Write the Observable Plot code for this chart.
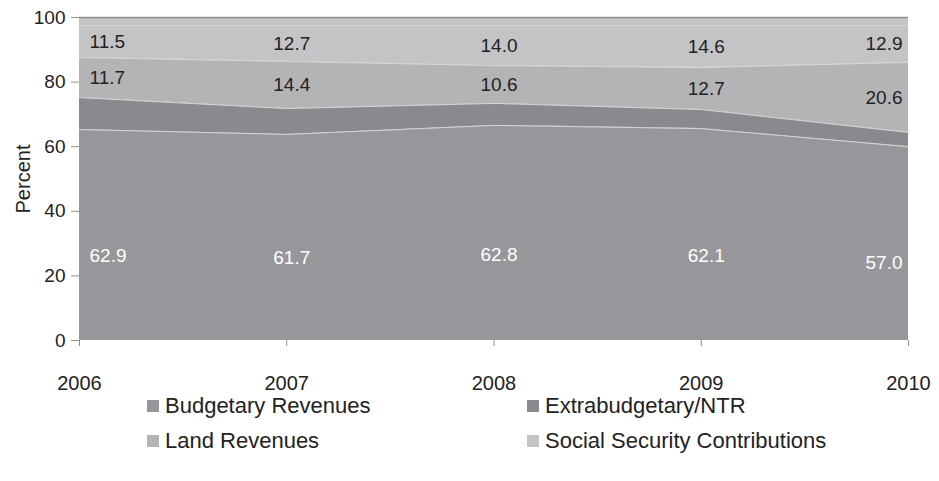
<!DOCTYPE html>
<html><head><meta charset="utf-8">
<script src="https://cdn.jsdelivr.net/npm/d3@7"></script>
<script src="https://cdn.jsdelivr.net/npm/@observablehq/plot@0.6"></script>
<style>
body{margin:0;background:#fff;font-family:"Liberation Sans",Arial,sans-serif;}
#chart svg{display:block;}
#legend{position:relative;height:86px;width:939px;}
.item{position:absolute;display:flex;align-items:center;font-size:22px;color:#222;line-height:1;}
.sw{width:12px;height:12px;margin-right:6px;}
</style></head><body><div id="chart"></div><div id="legend"></div>
<script>
const years = [2006, 2007, 2008, 2009, 2010];
const seriesNames = ["Budgetary Revenues", "Extrabudgetary/NTR", "Land Revenues", "Social Security Contributions", "Other"];
const legendNames = ["Budgetary Revenues", "Extrabudgetary/NTR", "Land Revenues", "Social Security Contributions"];
// band heights (percent)
const budgetary = [65.3, 63.8, 66.6, 65.6, 60.0];
const extrabudgetary = [9.9, 8.0, 6.8, 5.9, 4.4];
const land = [12.4, 14.6, 11.7, 13.0, 21.7];
const social = [9.9, 11.1, 12.4, 13.0, 11.4];
const other = [2.5, 2.5, 2.5, 2.5, 2.5];
// printed data labels
const budgetaryLabels = [62.9, 61.7, 62.8, 62.1, 57.0];
const landLabels = [11.7, 14.4, 10.6, 12.7, 20.6];
const socialLabels = [11.5, 12.7, 14.0, 14.6, 12.9];
const yTicks = [0, 20, 40, 60, 80, 100];
const colors = ["#97979b", "#8a8a8e", "#b4b4b7", "#c4c4c7", "#c4c4c7"];

const seriesValues = [budgetary, extrabudgetary, land, social, other];
const rows = [];
seriesNames.forEach((s, i) => years.forEach((yr, j) => rows.push({year: yr, series: s, value: seriesValues[i][j]})));

const labels = [];
years.forEach((yr, j) => {
  const b = budgetary[j], e = extrabudgetary[j], l = land[j], so = social[j];
  labels.push({year: yr, text: budgetaryLabels[j].toFixed(1), y: b * 0.4, fill: "#ffffff"});
  labels.push({year: yr, text: landLabels[j].toFixed(1), y: b + e + l / 2, fill: "#222222"});
  labels.push({year: yr, text: socialLabels[j].toFixed(1), y: b + e + l + so / 2, fill: "#222222"});
});

const stackOpts = {x: "year", y: "value", z: "series", order: seriesNames};
const textCommon = {x: "year", y: "y", text: "text", fill: "fill", fontSize: 19};

const chart = Plot.plot({
  width: 939,
  height: 395,
  marginLeft: 79,
  marginRight: 31,
  marginTop: 17,
  marginBottom: 55,
  style: {fontFamily: "'Liberation Sans', Arial, sans-serif", background: "#fff"},
  x: {type: "linear", domain: [2006, 2010]},
  y: {domain: [0, 100]},
  color: {domain: seriesNames, range: colors},
  marks: [
    Plot.areaY(rows, {...stackOpts, fill: "series", curve: "linear"}),
    Plot.lineY(rows, Plot.stackY2({...stackOpts, stroke: "#d6d6d8", strokeWidth: 1, filter: d => d.series !== "Other"})),
    Plot.ruleY([100], {stroke: "#8f8f8f", strokeWidth: 1.5}),
    Plot.axisY({ticks: yTicks, tickSize: 8, tickPadding: 6, stroke: "#8f8f8f", fill: "#222", fontSize: 19, label: null}),
    Plot.axisY({ticks: [], tickSize: 0, stroke: "#8f8f8f", fill: "#222", fontSize: 20, label: "Percent", labelAnchor: "center", labelArrow: false, labelOffset: 64, line: true}),
    Plot.axisX({ticks: years, tickFormat: d => String(d), tickSize: 6, tickPadding: 29, stroke: "#8f8f8f", fill: "#222", fontSize: 20, label: null}),
    Plot.text(labels.filter(d => d.year === 2006), {...textCommon, textAnchor: "start", dx: 10}),
    Plot.text(labels.filter(d => d.year > 2006 && d.year < 2010), {...textCommon, textAnchor: "middle", dx: 5}),
    Plot.text(labels.filter(d => d.year === 2010), {...textCommon, textAnchor: "end", dx: -6})
  ]
});
document.getElementById("chart").appendChild(chart);

const legend = document.getElementById("legend");
const pos = [[147, 0], [527, 0], [147, 35], [527, 35]];
legendNames.forEach((n, i) => {
  const it = document.createElement("div");
  it.className = "item";
  it.style.left = pos[i][0] + "px";
  it.style.top = pos[i][1] + "px";
  const sw = document.createElement("span");
  sw.className = "sw";
  sw.style.background = colors[i];
  it.appendChild(sw);
  it.appendChild(document.createTextNode(n));
  legend.appendChild(it);
});
</script></body></html>
